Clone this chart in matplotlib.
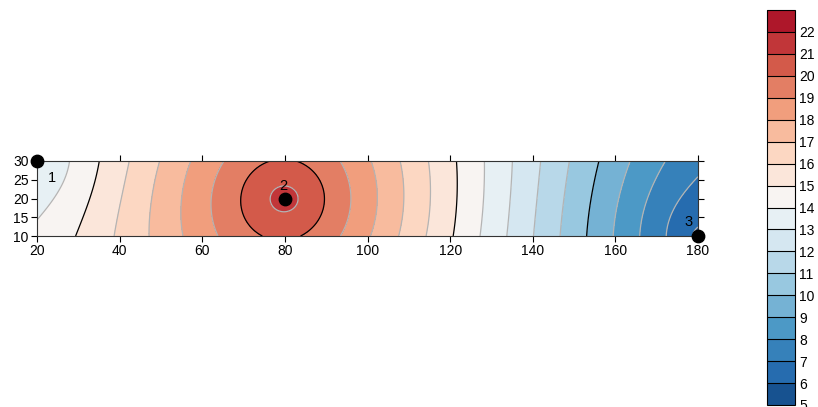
import numpy as np
import matplotlib
matplotlib.use("Agg")
from matplotlib import pyplot as plt
from matplotlib.colors import Normalize

plt.rcParams["font.family"] = ["Liberation Sans", "DejaVu Sans"]
plt.rcParams["font.size"] = 10

# station points and their values
pointX = [20, 80, 180]
pointY = [30, 20, 10]
pointValue = [12.9, 21.5, 5.8]
pointLabel = ["1", "2", "3"]
labelX = [23.5, 79.6, 177.6]
labelY = [25.5, 23.3, 13.7]

levels = np.arange(5, 24, 1)
cbarTicks = np.arange(5, 23, 1)


def linearRbf(px, py, pv, gx, gy):
    # linear radial basis function with a constant term
    px, py, pv = np.asarray(px, float), np.asarray(py, float), np.asarray(pv, float)
    n = len(pv)
    dist = np.hypot(px[:, None] - px[None, :], py[:, None] - py[None, :])
    A = np.zeros((n + 1, n + 1))
    A[:n, :n] = dist
    A[:n, n] = 1
    A[n, :n] = 1
    b = np.append(pv, 0)
    sol = np.linalg.solve(A, b)
    w, c = sol[:n], sol[n]
    r = np.hypot(gx[..., None] - px, gy[..., None] - py)
    return (r * w).sum(axis=-1) + c


gx, gy = np.meshgrid(np.linspace(20, 180, 641), np.linspace(10, 30, 161))
field = linearRbf(pointX, pointY, pointValue, gx, gy)

fig = plt.figure(figsize=(8.18, 4.07), dpi=100)
ax = fig.add_axes([37 / 818, 1 - 236 / 407, 661 / 818, 75 / 407])
norm = Normalize(vmin=4.2, vmax=24.4)
cf = ax.contourf(gx, gy, field, levels=levels, cmap="RdBu_r", norm=norm)
lineColors = ["black" if lv % 5 == 0 else "#b4b4b4" for lv in levels]
ax.contour(gx, gy, field, levels=levels, colors=lineColors, linewidths=0.9)

ax.scatter(pointX, pointY, s=80, color="black", zorder=10, clip_on=False)
for i in range(len(pointX)):
    ax.annotate(pointLabel[i], xy=(pointX[i], pointY[i]), xytext=(labelX[i], labelY[i]),
                ha="center", va="center", fontsize=10.5, zorder=11, annotation_clip=False,
                arrowprops=dict(arrowstyle="-", color="black", lw=0.8, shrinkA=4, shrinkB=0))

ax.set_xlim(20, 180)
ax.set_ylim(10, 30)
ax.set_xticks(np.arange(20, 181, 20))
ax.set_yticks(np.arange(10, 31, 5))
ax.tick_params(direction="out", length=4, width=0.8, top=True, right=True, labeltop=False, labelright=False, pad=2)
for sp in ax.spines.values():
    sp.set_linewidth(0.8)
    sp.set_color("#333333")

cax = fig.add_axes([767 / 818, 2 / 407, 28 / 818, 395 / 407])
cb = fig.colorbar(cf, cax=cax, drawedges=True, ticks=cbarTicks)
cb.outline.set_edgecolor("black")
cb.outline.set_linewidth(0.8)
cb.dividers.set_color("black")
cb.dividers.set_linewidth(0.8)
cax.tick_params(length=0, pad=3, labelsize=10)

fig.savefig("out.png", dpi=100)
plt.close(fig)
